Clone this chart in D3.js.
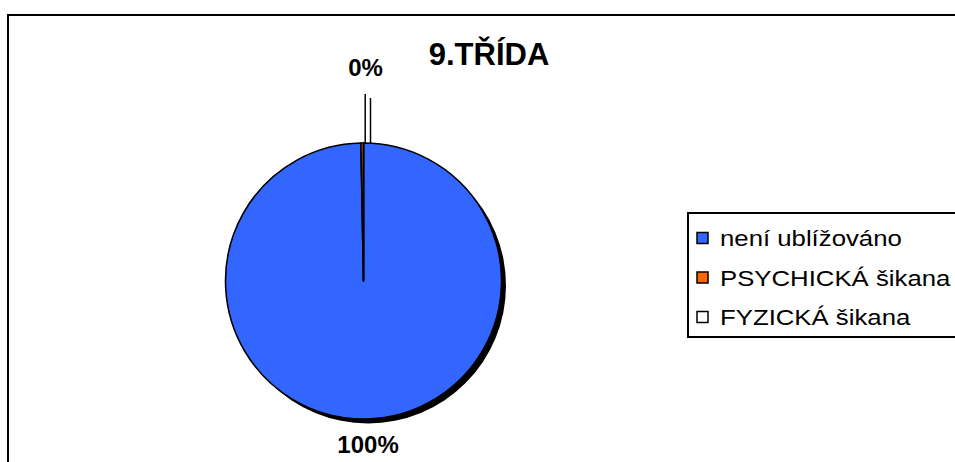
<!DOCTYPE html>
<html><head><meta charset="utf-8">
<script src="https://cdn.jsdelivr.net/npm/d3@7/dist/d3.min.js"></script>
<style>
html,body{margin:0;padding:0;background:#fff;}
svg{display:block;font-family:"Liberation Sans",Arial,sans-serif;}
</style></head>
<body>
<svg id="c" width="955" height="462"></svg>
<script>
const title = "9.TŘÍDA";
const categories = ["není ublížováno", "PSYCHICKÁ šikana", "FYZICKÁ šikana"];
const values = [99.7, 0.3, 0];
const labels = ["100%", "0%", "0%"];
const colors = ["#3366FF", "#FF6600", "#FFFFFF"];

const svg = d3.select("#c");

// outer chart border
svg.append("rect").attr("x", 8).attr("y", 15).attr("width", 1000).attr("height", 1000)
  .attr("fill", "none").attr("stroke", "#000").attr("stroke-width", 2);

// title
svg.append("text").attr("x", 489).attr("y", 65).attr("text-anchor", "middle")
  .attr("font-size", 31).attr("font-weight", "bold").text(title);

const cx = 363.5, cy = 281, r = 138;
const pie = d3.pie().sort(null).value(d => d)(values);
const arc = d3.arc().innerRadius(0).outerRadius(r);

const g = svg.append("g").attr("transform", `translate(${cx},${cy})`);
// shadow
g.append("circle").attr("cx", 4.5).attr("cy", 4.5).attr("r", r).attr("fill", "#000");
g.selectAll("path.slice").data(pie).join("path").attr("class", "slice")
  .attr("d", arc).attr("fill", (d, i) => colors[i])
  .attr("stroke", "#000").attr("stroke-width", 1.6).attr("stroke-linejoin", "round");

// big slice label below pie
const big = pie[0];
const bigMid = (big.startAngle + big.endAngle) / 2;
g.append("text")
  .attr("x", Math.sin(bigMid) * (r + 26) + 3)
  .attr("y", -Math.cos(bigMid) * (r + 26) + 8)
  .attr("text-anchor", "middle").attr("font-size", 24).attr("font-weight", "bold")
  .text(labels[0]);

// small slices: leader lines and label above
pie.slice(1).forEach((d, k) => {
  const mid = (d.startAngle + d.endAngle) / 2;
  const x0 = Math.sin(mid) * r + 3 + k * 4;
  const y0 = -Math.cos(mid) * r;
  g.append("line").attr("x1", x0).attr("x2", x0)
    .attr("y1", y0).attr("y2", y0 - 49 + k * 4)
    .attr("stroke", "#000").attr("stroke-width", 1.5);
});
g.append("text").attr("x", 2).attr("y", -r - 67)
  .attr("text-anchor", "middle").attr("font-size", 24).attr("font-weight", "bold")
  .text(labels[1]);

// legend
const lg = svg.append("g");
lg.append("rect").attr("x", 688).attr("y", 213).attr("width", 300).attr("height", 124)
  .attr("fill", "#fff").attr("stroke", "#000").attr("stroke-width", 2);
const rows = lg.selectAll("g.row").data(categories).join("g").attr("class", "row")
  .attr("transform", (d, i) => `translate(697,${238 + i * 39.5})`);
rows.append("rect").attr("x", 0).attr("y", -5.5).attr("width", 11).attr("height", 11)
  .attr("fill", (d, i) => colors[i]).attr("stroke", "#000").attr("stroke-width", 1.5);
rows.append("text").attr("transform", "translate(23,8) scale(1.12,1)")
  .attr("font-size", 23).text(d => d);
</script>
</body></html>
